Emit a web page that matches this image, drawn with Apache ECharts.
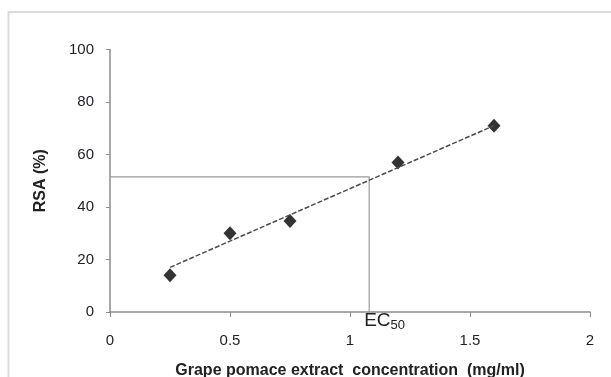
<!DOCTYPE html>
<html>
<head>
<meta charset="utf-8">
<script src="https://cdn.jsdelivr.net/npm/echarts@6/dist/echarts.min.js"></script>
<style>
    html, body { margin: 0; padding: 0; background: #fff; }
    #chart { width: 611px; height: 377px; }
</style>
</head>
<body>
<div id="chart"></div>
<script>
// measured points (mg/ml, %)
var concentration = [0.25, 0.5, 0.75, 1.2, 1.6];
var rsa = [14, 30, 34.7, 57, 71];

// linear trend line end points
var trendX = [0.25, 1.6];
var trendY = [17, 71];

// EC50 read-off
var ec50X = 1.08;
var ec50Y = 51.5;

var xTicks = [0, 0.5, 1, 1.5, 2];
var yTicks = [0, 20, 40, 60, 80, 100];

var font = 'Liberation Sans, Arial, sans-serif';
var chart = echarts.init(document.getElementById('chart'));

var option = {
    animation: false,
    graphic: [
        {
            type: 'rect',
            shape: { x: 8.5, y: 12, width: 700, height: 420 },
            style: { fill: 'none', stroke: '#dcdcdc', lineWidth: 2 }
        }
    ],
    grid: {
        left: 110,
        right: 21,
        top: 49.5,
        bottom: 65,
        outerBoundsMode: 'none'
    },
    xAxis: {
        type: 'value',
        min: xTicks[0],
        max: xTicks[xTicks.length - 1],
        interval: 0.5,
        name: 'Grape pomace extract  concentration  (mg/ml)',
        nameLocation: 'middle',
        nameGap: 51,
        nameTextStyle: { fontFamily: font, fontSize: 16, fontWeight: 'bold', color: '#222' },
        axisLine: { lineStyle: { color: '#8c8c8c', width: 1.5 } },
        axisTick: { show: true, length: 5, lineStyle: { color: '#8c8c8c' } },
        axisLabel: {
            margin: 21,
            fontFamily: font,
            fontSize: 15,
            color: '#22222b',
            formatter: function (v) { return String(v); }
        },
        splitLine: { show: false }
    },
    yAxis: {
        type: 'value',
        min: yTicks[0],
        max: yTicks[yTicks.length - 1],
        interval: 20,
        name: 'RSA (%)',
        nameLocation: 'middle',
        nameGap: 61,
        nameTextStyle: { fontFamily: font, fontSize: 16, fontWeight: 'bold', color: '#222' },
        axisLine: { show: true, lineStyle: { color: '#8c8c8c', width: 1.5 } },
        axisTick: { show: true, length: 4, lineStyle: { color: '#8c8c8c' } },
        axisLabel: { margin: 16, fontFamily: font, fontSize: 15, color: '#22222b' },
        splitLine: { show: false }
    },
    series: [
        {
            name: 'ec50',
            type: 'line',
            symbol: 'none',
            silent: true,
            lineStyle: { color: '#9a9a9a', width: 1.2 },
            data: [[xTicks[0], ec50Y], [ec50X, ec50Y], [ec50X, yTicks[0]]],
            label: { show: false },
            endLabel: {
                show: true,
                formatter: 'EC{sub|50}',
                offset: [-13, 9],
                align: 'left',
                fontFamily: font,
                fontSize: 19,
                color: '#22222b',
                rich: {
                    sub: { fontFamily: font, fontSize: 13, color: '#22222b', verticalAlign: 'bottom', padding: [9, 0, 0, 0] }
                }
            }
        },
        {
            name: 'trend',
            type: 'line',
            symbol: 'none',
            silent: true,
            lineStyle: { color: '#4d4d4d', width: 1.5, type: [5, 2] },
            data: trendX.map(function (x, i) { return [x, trendY[i]]; })
        },
        {
            name: 'RSA',
            type: 'scatter',
            symbol: 'diamond',
            symbolSize: [13, 14],
            itemStyle: { color: '#000' },
            data: concentration.map(function (x, i) { return [x, rsa[i]]; })
        }
    ]
};

chart.setOption(option);
</script>
</body>
</html>
